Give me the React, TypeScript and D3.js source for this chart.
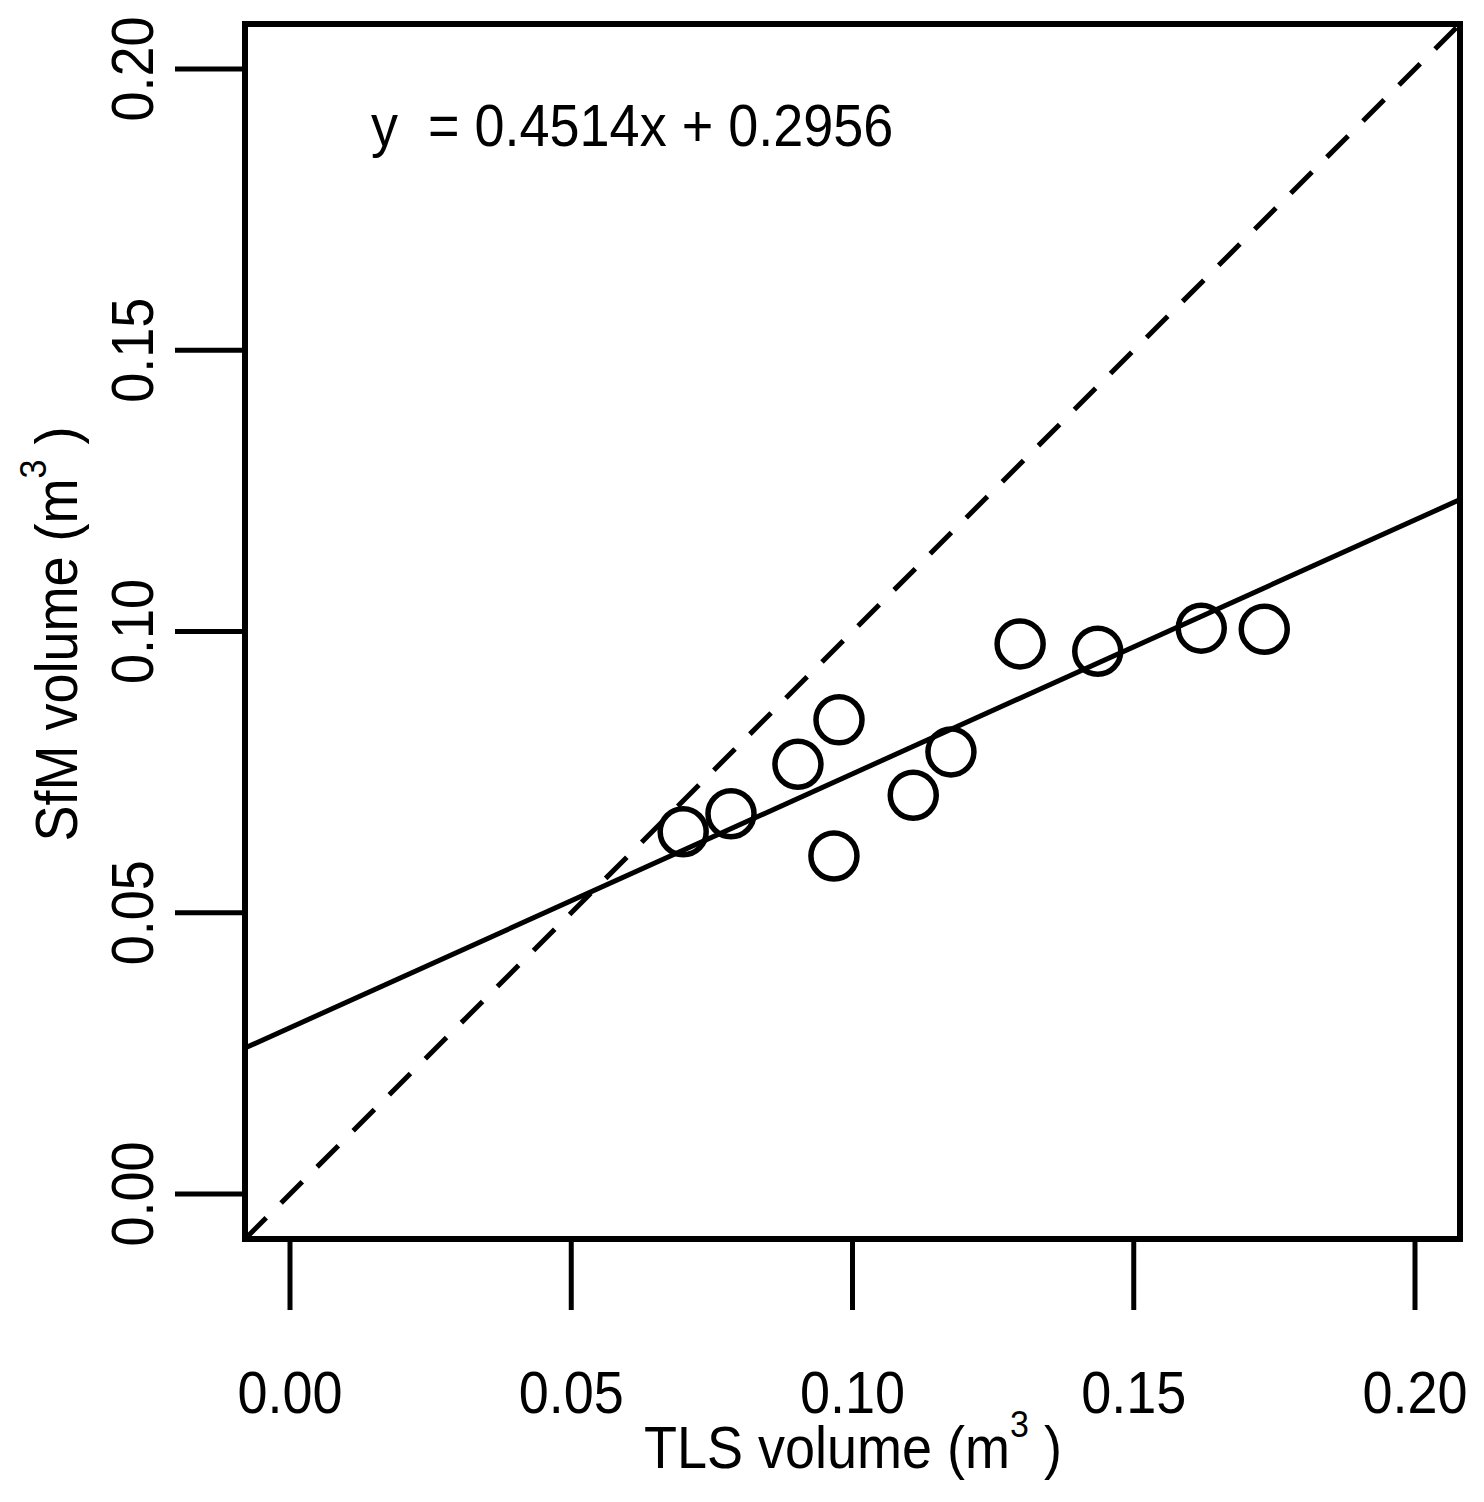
import { useEffect, useRef } from "react";
import * as d3 from "d3";

// TLS vs SfM volume (m^3)
const tlsVolume = [0.0699, 0.0784, 0.0903, 0.0976, 0.0967, 0.1108, 0.1175, 0.1298, 0.1436, 0.1620, 0.1732];
const sfmVolume = [0.0644, 0.0676, 0.0764, 0.0843, 0.0601, 0.0709, 0.0786, 0.0978, 0.0965, 0.1006, 0.1004];

const tickValues = [0, 0.05, 0.1, 0.15, 0.2];
const tickLabels = ["0.00", "0.05", "0.10", "0.15", "0.20"];

const fitSlope = 0.4514;
const fitIntercept = 0.02956;
const equationLabel = "y  = 0.4514x + 0.2956";

const W = 1484;
const H = 1502;

export default function App() {
  const svgRef = useRef<SVGSVGElement>(null);

  useEffect(() => {
    if (!svgRef.current) return;
    const svg = d3.select(svgRef.current);
    svg.selectAll("*").remove();

    const FONT = "'Liberation Sans', Arial, sans-serif";
    const STRETCH = "scale(1,1.08)"; // original glyphs are a bit taller than Arial
    const box = { left: 245, right: 1460, top: 24, bottom: 1239 };

    // R-style 4% padding around [0, 0.2]
    const x = d3.scaleLinear().domain([-0.008, 0.208]).range([box.left, box.right]);
    const y = d3.scaleLinear().domain([-0.008, 0.208]).range([box.bottom, box.top]);

    svg.append("rect").attr("width", W).attr("height", H).attr("fill", "white");

    const defs = svg.append("defs");
    defs.append("clipPath").attr("id", "plot-clip")
      .append("rect")
      .attr("x", box.left).attr("y", box.top)
      .attr("width", box.right - box.left).attr("height", box.bottom - box.top);

    const plot = svg.append("g").attr("clip-path", "url(#plot-clip)");

    // ── 1:1 line (dashed) ─────────────────────────────
    const line = d3.line<[number, number]>().x(d => x(d[0])).y(d => y(d[1]));
    const [d0, d1] = x.domain();
    plot.append("path")
      .attr("d", line([[d0, d0], [d1, d1]]))
      .attr("fill", "none")
      .attr("stroke", "black")
      .attr("stroke-width", 5)
      .attr("stroke-dasharray", "30,21");

    // ── regression line ───────────────────────────────
    plot.append("path")
      .attr("d", line([[d0, fitSlope * d0 + fitIntercept], [d1, fitSlope * d1 + fitIntercept]]))
      .attr("fill", "none")
      .attr("stroke", "black")
      .attr("stroke-width", 5);

    // ── points ────────────────────────────────────────
    plot.selectAll("circle.pt")
      .data(tlsVolume.map((v, i) => [v, sfmVolume[i]] as [number, number]))
      .join("circle")
      .attr("class", "pt")
      .attr("cx", d => x(d[0]))
      .attr("cy", d => y(d[1]))
      .attr("r", 23)
      .attr("fill", "none")
      .attr("stroke", "black")
      .attr("stroke-width", 5.5);

    // ── frame ─────────────────────────────────────────
    svg.append("rect")
      .attr("x", box.left).attr("y", box.top)
      .attr("width", box.right - box.left).attr("height", box.bottom - box.top)
      .attr("fill", "none")
      .attr("stroke", "black")
      .attr("stroke-width", 6);

    // ── x axis ────────────────────────────────────────
    const xAxis = svg.append("g");
    tickValues.forEach((v, i) => {
      xAxis.append("line")
        .attr("x1", x(v)).attr("x2", x(v))
        .attr("y1", box.bottom).attr("y2", 1310)
        .attr("stroke", "black").attr("stroke-width", 5);
      xAxis.append("text")
        .attr("transform", `translate(${x(v)},1413) ${STRETCH}`)
        .attr("text-anchor", "middle")
        .attr("font-size", 54)
        .style("font-family", FONT)
        .text(tickLabels[i]);
    });

    // ── y axis ────────────────────────────────────────
    const yAxis = svg.append("g");
    tickValues.forEach((v, i) => {
      yAxis.append("line")
        .attr("x1", 175).attr("x2", box.left)
        .attr("y1", y(v)).attr("y2", y(v))
        .attr("stroke", "black").attr("stroke-width", 5);
      yAxis.append("text")
        .attr("transform", `translate(153,${y(v)}) rotate(-90) ${STRETCH}`)
        .attr("text-anchor", "middle")
        .attr("font-size", 54)
        .style("font-family", FONT)
        .text(tickLabels[i]);
    });

    // ── axis titles with superscript ──────────────────
    const title = (g: d3.Selection<SVGTextElement, unknown, null, undefined>, name: string) => {
      g.attr("text-anchor", "middle")
        .attr("font-size", 54)
        .style("font-family", FONT)
        .style("white-space", "pre");
      g.append("tspan").text(`${name} (m`);
      g.append("tspan").attr("font-size", 34).attr("dy", -29).text("3");
      g.append("tspan").attr("dy", 29).text(" )");
    };

    title(svg.append("text").attr("transform", `translate(853,1468) ${STRETCH}`), "TLS volume");
    title(svg.append("text").attr("transform", `translate(77,634) rotate(-90) ${STRETCH}`), "SfM volume");

    // ── equation ──────────────────────────────────────
    svg.append("text")
      .attr("transform", `translate(371,146) ${STRETCH}`)
      .attr("font-size", 54)
      .attr("xml:space", "preserve")
      .style("white-space", "pre")
      .style("font-family", FONT)
      .text(equationLabel);
  }, []);

  return (
    <div style={{ position: "absolute", left: 0, top: 0, width: W, height: H, background: "white" }}>
      <svg ref={svgRef} width={W} height={H} style={{ display: "block" }} />
    </div>
  );
}
